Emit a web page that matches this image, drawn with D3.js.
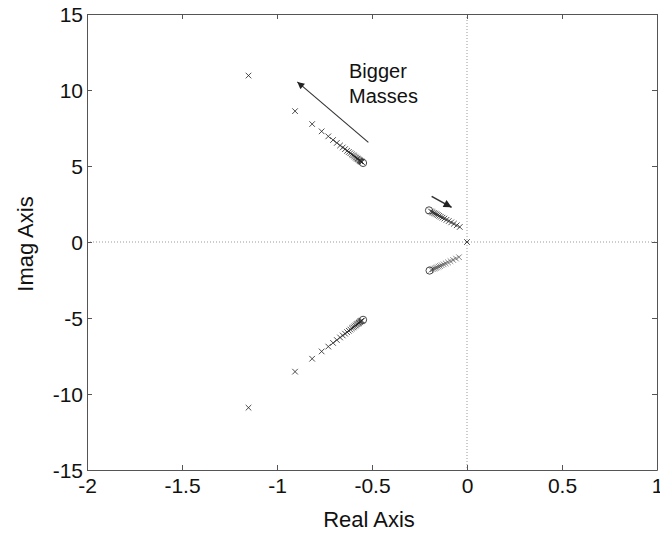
<!DOCTYPE html>
<html>
<head>
<meta charset="utf-8">
<script src="https://cdn.jsdelivr.net/npm/d3@7"></script>
<style>
  html, body { margin: 0; padding: 0; background: #fff; }
  svg { display: block; }
  text { font-family: "Liberation Sans", Arial, sans-serif; fill: #111; }
</style>
</head>
<body>
<svg id="chart" width="660" height="533"></svg>
<script>
// ---- data (real, imag) ----
const xTicks = [-2, -1.5, -1, -0.5, 0, 0.5, 1];
const xTickLabels = ["-2", "-1.5", "-1", "-0.5", "0", "0.5", "1"];
const yTicks = [-15, -10, -5, 0, 5, 10, 15];
const yTickLabels = ["-15", "-10", "-5", "0", "5", "10", "15"];

// poles (x markers), upper main branch
const polesUpperMain = [
  [-1.150, 10.95], [-0.905, 8.61], [-0.815, 7.76], [-0.765, 7.28], [-0.730, 6.95],
  [-0.705, 6.71], [-0.685, 6.52], [-0.668, 6.35], [-0.654, 6.22], [-0.642, 6.11],
  [-0.631, 6.00], [-0.622, 5.92], [-0.614, 5.84], [-0.606, 5.76], [-0.599, 5.70],
  [-0.593, 5.64], [-0.587, 5.58], [-0.582, 5.53], [-0.577, 5.49], [-0.573, 5.45],
  [-0.569, 5.41], [-0.565, 5.37], [-0.562, 5.34], [-0.559, 5.31], [-0.556, 5.29],
  [-0.553, 5.26]
];
// lower main branch
const polesLowerMain = [
  [-1.150, -10.90], [-0.905, -8.53], [-0.815, -7.68], [-0.765, -7.20], [-0.730, -6.88],
  [-0.705, -6.64], [-0.685, -6.45], [-0.668, -6.28], [-0.654, -6.15], [-0.642, -6.03],
  [-0.631, -5.93], [-0.622, -5.84], [-0.614, -5.76], [-0.606, -5.68], [-0.599, -5.62],
  [-0.593, -5.56], [-0.587, -5.50], [-0.582, -5.45], [-0.577, -5.40], [-0.573, -5.36],
  [-0.569, -5.32], [-0.565, -5.28], [-0.562, -5.25], [-0.559, -5.22], [-0.556, -5.19],
  [-0.553, -5.17]
];
// upper small branch near origin
const polesUpperSmall = [
  [-0.190, 2.01], [-0.182, 1.96], [-0.175, 1.91], [-0.168, 1.87], [-0.161, 1.82],
  [-0.154, 1.77], [-0.146, 1.72], [-0.138, 1.66], [-0.129, 1.60], [-0.119, 1.54],
  [-0.108, 1.46], [-0.096, 1.38], [-0.083, 1.29], [-0.069, 1.20], [-0.054, 1.10],
  [-0.038, 0.99]
];
// lower small branch near origin
const polesLowerSmall = [
  [-0.188, -1.83], [-0.180, -1.79], [-0.172, -1.75], [-0.165, -1.71], [-0.158, -1.67],
  [-0.150, -1.62], [-0.142, -1.58], [-0.133, -1.53], [-0.123, -1.47], [-0.112, -1.41],
  [-0.100, -1.34], [-0.087, -1.26], [-0.073, -1.18], [-0.058, -1.09], [-0.042, -1.00]
];
const poleOrigin = [[0, 0]];

// zeros (o markers)
const zeros = [[-0.547, 5.20], [-0.547, -5.12], [-0.200, 2.08], [-0.197, -1.88]];

// annotation arrows: [tail, head]
const arrowBig = [[-0.519, 6.55], [-0.893, 10.53]];
const arrowSmall = [[-0.186, 3.00], [-0.081, 2.28]];
const annotationLines = ["Bigger", "Masses"];
const annotationPos = [-0.621, 10.78];

// ---- chart ----
const svg = d3.select("#chart");
const pLeft = 87, pRight = 657, pTop = 14, pBottom = 470;
const x = d3.scaleLinear().domain([-2, 1]).range([pLeft, pRight]);
const y = d3.scaleLinear().domain([-15, 15]).range([pBottom, pTop]);

const axisColor = "#555";
const fontTick = 21;

// dotted zero lines
svg.append("line")
  .attr("x1", x(0)).attr("x2", x(0)).attr("y1", pTop).attr("y2", pBottom)
  .attr("stroke", "#999").attr("stroke-width", 1).attr("stroke-dasharray", "1,2");
svg.append("line")
  .attr("x1", pLeft).attr("x2", pRight).attr("y1", y(0)).attr("y2", y(0))
  .attr("stroke", "#999").attr("stroke-width", 1).attr("stroke-dasharray", "1,2");

// axes
function styleAxis(g) {
  g.selectAll("path.domain").attr("stroke", axisColor);
  g.selectAll(".tick line").attr("stroke", axisColor);
}
const gx = svg.append("g").attr("transform", `translate(0,${pBottom})`)
  .call(d3.axisBottom(x).tickValues(xTicks).tickSize(-5).tickSizeOuter(0)
    .tickFormat((d, i) => xTickLabels[i]));
gx.selectAll(".tick text").attr("y", 23).attr("dy", 0)
  .attr("font-size", fontTick).attr("font-family", "Liberation Sans, Arial, sans-serif").attr("fill", "#111");
styleAxis(gx);

const gxt = svg.append("g").attr("transform", `translate(0,${pTop})`)
  .call(d3.axisTop(x).tickValues(xTicks).tickSize(-5).tickSizeOuter(0).tickFormat(""));
styleAxis(gxt);

const gy = svg.append("g").attr("transform", `translate(${pLeft},0)`)
  .call(d3.axisLeft(y).tickValues(yTicks).tickSize(-5).tickSizeOuter(0)
    .tickFormat((d, i) => yTickLabels[i]));
gy.selectAll(".tick text").attr("x", -4).attr("dy", "0.36em")
  .attr("font-size", fontTick).attr("font-family", "Liberation Sans, Arial, sans-serif").attr("fill", "#111");
styleAxis(gy);

const gyr = svg.append("g").attr("transform", `translate(${pRight},0)`)
  .call(d3.axisRight(y).tickValues(yTicks).tickSize(-5).tickSizeOuter(0).tickFormat(""));
styleAxis(gyr);

// axis labels
svg.append("text").attr("x", (pLeft + pRight) / 2 - 3).attr("y", 527)
  .attr("text-anchor", "middle").attr("font-size", 22).text("Real Axis");
svg.append("text").attr("transform", `translate(33,${(pTop + pBottom) / 2 + 2}) rotate(-90)`)
  .attr("text-anchor", "middle").attr("font-size", 22).text("Imag Axis");

// markers
const cross = 2.8;
function drawCrosses(data, color, op) {
  const g = svg.append("g").attr("stroke", color).attr("stroke-width", 1)
    .attr("stroke-opacity", op).attr("fill", "none");
  g.selectAll("path").data(data).join("path")
    .attr("d", d => {
      const cx = x(d[0]), cy = y(d[1]);
      return `M${cx - cross},${cy - cross}L${cx + cross},${cy + cross}M${cx - cross},${cy + cross}L${cx + cross},${cy - cross}`;
    });
}
drawCrosses(polesUpperMain, "#222", 0.8);
drawCrosses(polesLowerMain, "#222", 0.8);
drawCrosses(polesUpperSmall, "#222", 0.8);
drawCrosses(polesLowerSmall, "#444", 0.65);
drawCrosses(poleOrigin, "#333", 0.9);

svg.append("g").selectAll("circle").data(zeros).join("circle")
  .attr("cx", d => x(d[0])).attr("cy", d => y(d[1])).attr("r", 3.6)
  .attr("fill", "none").attr("stroke", "#333").attr("stroke-width", 0.9);

// arrows
svg.append("defs").html(`
  <marker id="ahBig" viewBox="0 0 10 10" refX="10" refY="5" markerWidth="11" markerHeight="7" markerUnits="userSpaceOnUse" orient="auto">
    <path d="M0,0L10,5L0,10z" fill="#222"/>
  </marker>
  <marker id="ahSmall" viewBox="0 0 10 10" refX="10" refY="5" markerWidth="10" markerHeight="8" markerUnits="userSpaceOnUse" orient="auto">
    <path d="M0,0L10,5L0,10z" fill="#222"/>
  </marker>`);
svg.append("line")
  .attr("x1", x(arrowBig[0][0])).attr("y1", y(arrowBig[0][1]))
  .attr("x2", x(arrowBig[1][0])).attr("y2", y(arrowBig[1][1]))
  .attr("stroke", "#333").attr("stroke-width", 1.1).attr("marker-end", "url(#ahBig)");
svg.append("line")
  .attr("x1", x(arrowSmall[0][0])).attr("y1", y(arrowSmall[0][1]))
  .attr("x2", x(arrowSmall[1][0])).attr("y2", y(arrowSmall[1][1]))
  .attr("stroke", "#333").attr("stroke-width", 1.6).attr("marker-end", "url(#ahSmall)");

// annotation text
const ann = svg.append("text").attr("x", x(annotationPos[0])).attr("y", y(annotationPos[1]))
  .attr("font-size", 20);
annotationLines.forEach((t, i) => {
  ann.append("tspan").attr("x", x(annotationPos[0])).attr("dy", i === 0 ? 0 : 25).text(t);
});
</script>
</body>
</html>
